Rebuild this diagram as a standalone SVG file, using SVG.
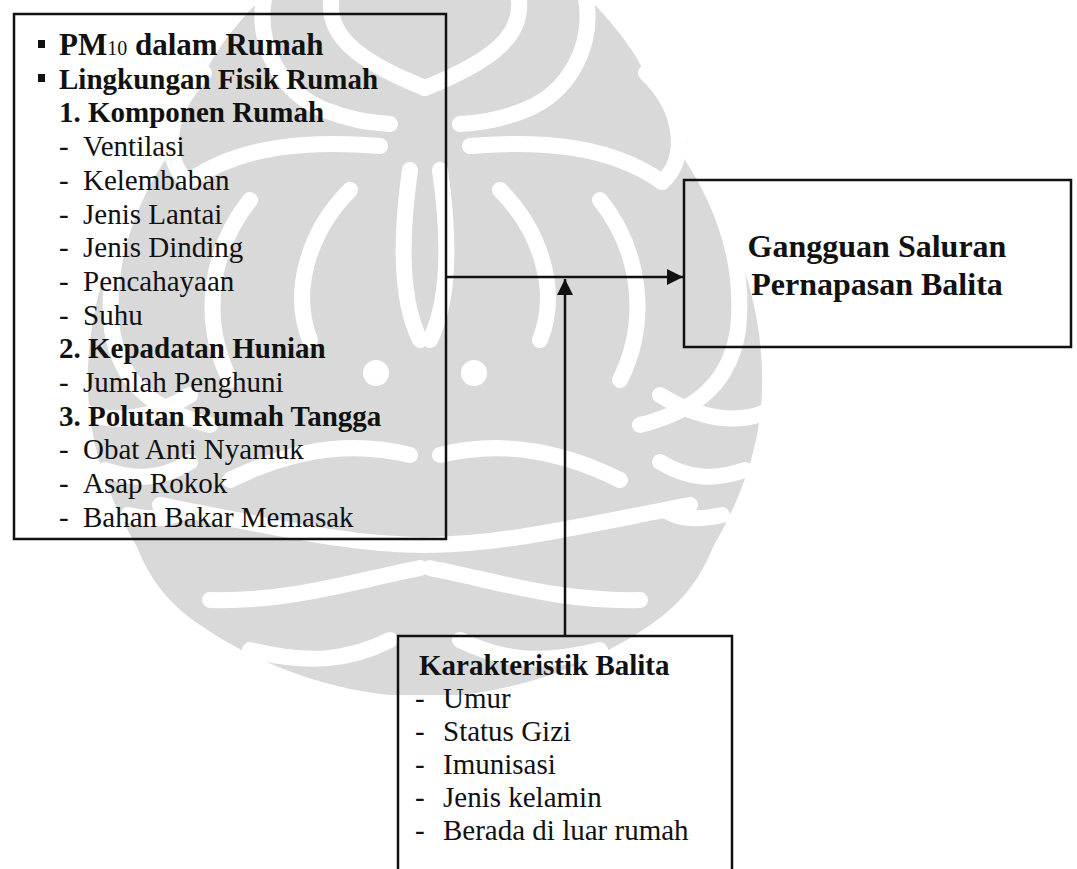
<svg xmlns="http://www.w3.org/2000/svg" xmlns:xlink="http://www.w3.org/1999/xlink" width="1077" height="869" viewBox="0 0 1077 869">
  <style>
    .t { font-family: "Liberation Serif", "Times New Roman", serif; font-size: 29px; fill: #111; }
    .b { font-weight: bold; }
    .box { fill: none; stroke: #111; stroke-width: 2.5; }
    .gap { fill: none; stroke: #fff; stroke-linecap: round; stroke-width: 16; }
    .conn { stroke: #111; stroke-width: 2.5; fill: none; }
  </style>
  <defs>
    <marker id="ah" viewBox="0 0 16 16" refX="16" refY="8" markerWidth="16" markerHeight="16" markerUnits="userSpaceOnUse" orient="auto">
      <path d="M0,0 L16,8 L0,16 z" fill="#111"/>
    </marker>
    <g id="wmshape">
      <path fill="#d9d9d9" d="M425 0 L590 0 C620 30 640 60 645 75 C670 100 685 130 690 150 C730 220 765 300 762 390 C760 450 740 500 713 547 C700 580 680 605 650 625 C600 660 530 688 460 695 L425 695 Z"/>
    </g>
    <g id="wmgaps">
      <path class="gap" d="M519 0 C522 35 495 60 425 88"/>
      <path class="gap" d="M586 -2 C594 45 570 92 525 110 C500 120 480 123 460 124"/>
      <path class="gap" d="M646 73 C685 110 688 160 662 182"/>
      <path class="gap" d="M470 146 C540 140 610 145 662 182"/>
      <path class="gap" d="M688 150 C725 205 745 265 738 330 C730 380 700 410 640 425"/>
      <path class="gap" d="M660 395 C700 420 740 425 770 410"/>
      <path class="gap" d="M660 462 C690 480 715 480 745 470"/>
      <path class="gap" d="M665 510 C680 520 700 520 722 515"/>
      <path class="gap" stroke-width="14" d="M425 545 C500 545 570 528 690 505"/>
      <path class="gap" d="M430 568 C500 582 560 602 640 600"/>
      <path class="gap" d="M440 455 C500 440 560 450 620 480"/>
      <path class="gap" stroke-width="24" d="M600 200 C640 250 650 320 620 380"/>
      <path class="gap" stroke-width="20" d="M500 190 C540 230 560 290 540 340"/>
      <path class="gap" d="M440 170 C450 240 450 300 430 340"/>
      <path class="gap" stroke-width="12" d="M460 640 C500 660 540 665 600 650"/>
      <circle cx="474" cy="373" r="13" fill="#fff"/>
    </g>
  </defs>
  <rect width="1077" height="869" fill="#fff"/>
  <g id="watermark">
    <use xlink:href="#wmshape"/>
    <use xlink:href="#wmshape" transform="translate(850,0) scale(-1,1)"/>
    <use xlink:href="#wmgaps"/>
    <use xlink:href="#wmgaps" transform="translate(850,0) scale(-1,1)"/>
  </g>

  <g id="node-lingkungan">
    <rect class="box" x="14" y="14" width="432" height="525"/>
    <rect x="38" y="40" width="7" height="8" fill="#111"/>
    <text class="t b" x="59" y="55" style="font-size:31px">PM<tspan style="font-weight:normal;font-size:20px">10</tspan> dalam Rumah</text>
    <rect x="38" y="74" width="7" height="8" fill="#111"/>
    <text class="t b" x="59" y="88.7">Lingkungan Fisik Rumah</text>
    <text class="t b" x="59" y="122.4">1. Komponen Rumah</text>
    <text class="t" x="59" y="156.1">-<tspan x="83">Ventilasi</tspan></text>
    <text class="t" x="59" y="189.8">-<tspan x="83">Kelembaban</tspan></text>
    <text class="t" x="59" y="223.5">-<tspan x="83">Jenis Lantai</tspan></text>
    <text class="t" x="59" y="257.2">-<tspan x="83">Jenis Dinding</tspan></text>
    <text class="t" x="59" y="290.9">-<tspan x="83">Pencahayaan</tspan></text>
    <text class="t" x="59" y="324.6">-<tspan x="83">Suhu</tspan></text>
    <text class="t b" x="59" y="358.3">2. Kepadatan Hunian</text>
    <text class="t" x="59" y="392">-<tspan x="83">Jumlah Penghuni</tspan></text>
    <text class="t b" x="59" y="425.7">3. Polutan Rumah Tangga</text>
    <text class="t" x="59" y="459.4">-<tspan x="83">Obat Anti Nyamuk</tspan></text>
    <text class="t" x="59" y="493.1">-<tspan x="83">Asap Rokok</tspan></text>
    <text class="t" x="59" y="526.8">-<tspan x="83">Bahan Bakar Memasak</tspan></text>
  </g>

  <g id="node-gangguan">
    <rect class="box" x="684" y="180" width="387" height="167"/>
    <text class="t b" x="877" y="257" text-anchor="middle" style="font-size:32px">Gangguan Saluran</text>
    <text class="t b" x="877" y="295" text-anchor="middle" style="font-size:32px">Pernapasan Balita</text>
  </g>

  <g id="node-karakteristik">
    <path class="box" d="M398 869 L398 636 L732 636 L732 869"/>
    <text class="t b" x="419" y="675">Karakteristik Balita</text>
    <text class="t" x="415" y="708">-<tspan x="443">Umur</tspan></text>
    <text class="t" x="415" y="741">-<tspan x="443">Status Gizi</tspan></text>
    <text class="t" x="415" y="774">-<tspan x="443">Imunisasi</tspan></text>
    <text class="t" x="415" y="807">-<tspan x="443">Jenis kelamin</tspan></text>
    <text class="t" x="415" y="840">-<tspan x="443">Berada di luar rumah</tspan></text>
  </g>

  <g id="connectors">
    <line class="conn" x1="446" y1="277" x2="683" y2="277" marker-end="url(#ah)"/>
    <line class="conn" x1="565" y1="636" x2="565" y2="279" marker-end="url(#ah)"/>
  </g>
</svg>
